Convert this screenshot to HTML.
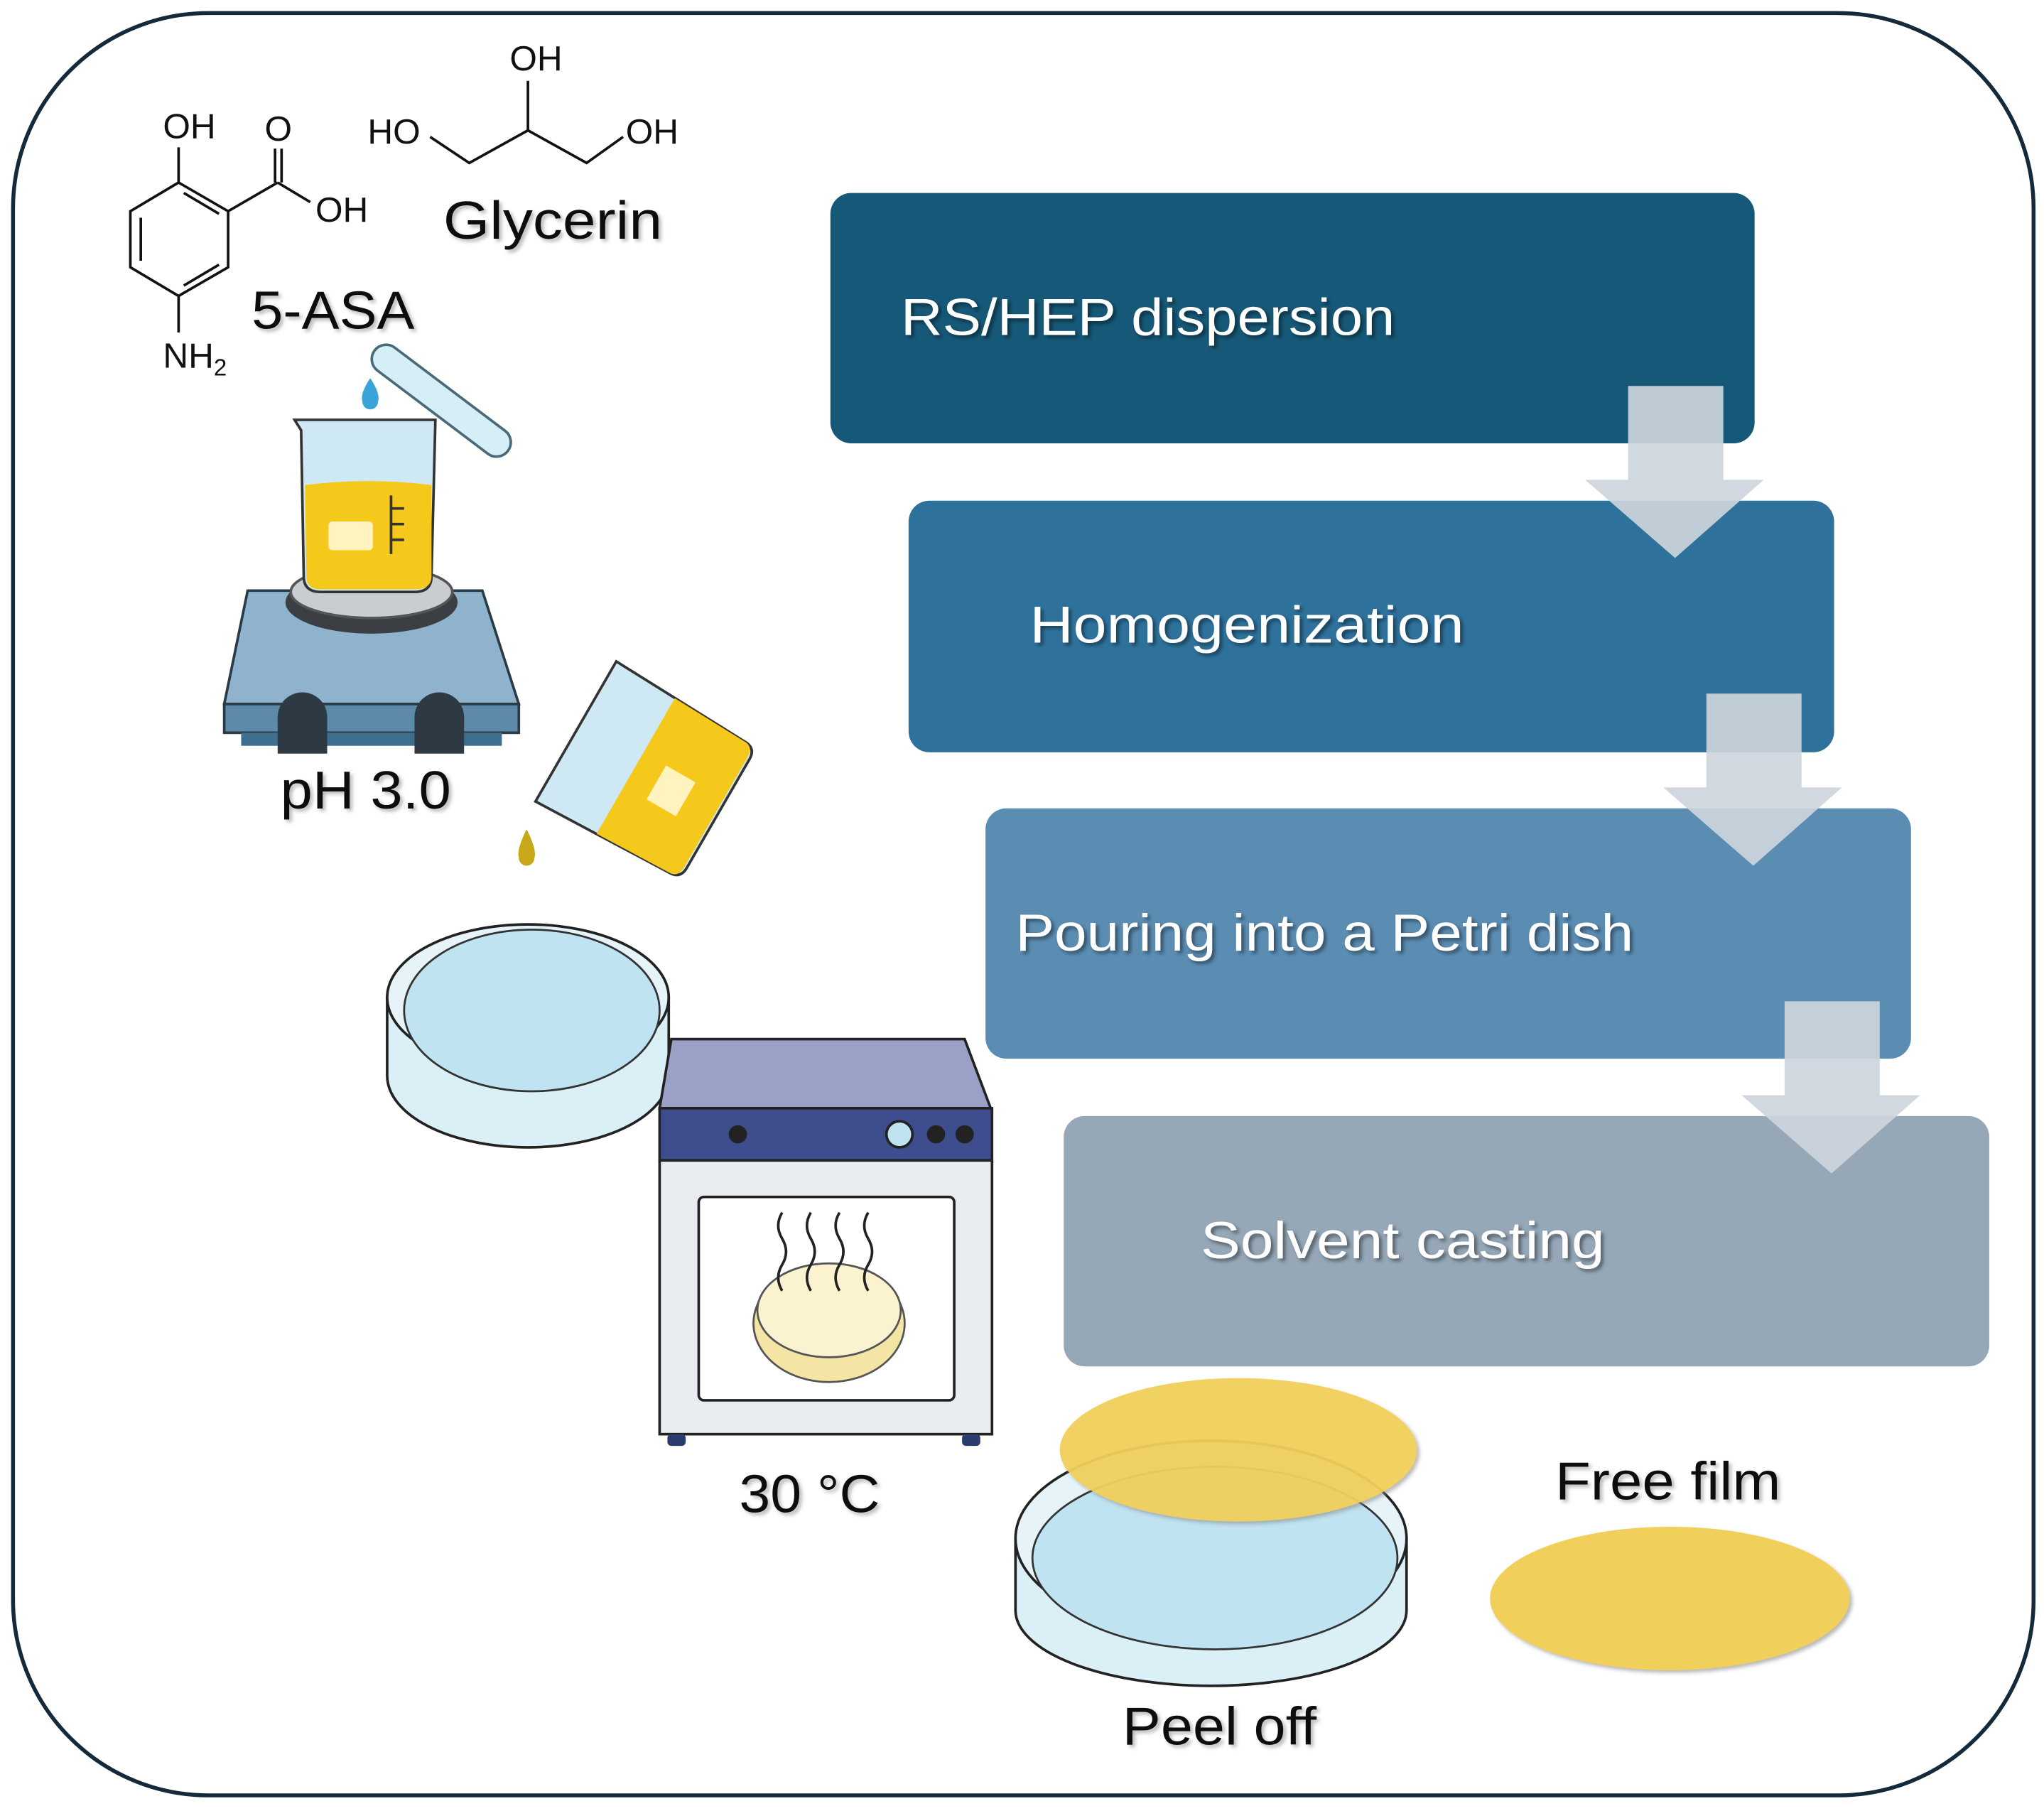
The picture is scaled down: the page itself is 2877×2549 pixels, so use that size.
<!DOCTYPE html>
<html><head><meta charset="utf-8"><style>
html,body{margin:0;padding:0;background:#fff}
svg{display:block}
.lbl{font-family:"Liberation Sans",sans-serif;fill:#111;font-size:41px}
.fl{font-family:"Liberation Sans",sans-serif;fill:#fff;font-size:40px}
.ch{font-family:"Liberation Sans",sans-serif;fill:#111;font-size:27px}
</style></head><body>
<svg width="2877" height="2549" viewBox="0 0 1568 1389" preserveAspectRatio="none" xmlns="http://www.w3.org/2000/svg">
<defs>
<filter id="sh" x="-10%" y="-10%" width="120%" height="140%"><feDropShadow dx="2" dy="2" stdDeviation="1.5" flood-color="#000" flood-opacity="0.45"/></filter>
<filter id="sh2" x="-10%" y="-10%" width="120%" height="140%"><feDropShadow dx="2" dy="2" stdDeviation="1.5" flood-color="#888" flood-opacity="0.6"/></filter>
</defs>
<rect x="10" y="10" width="1550" height="1367" rx="150" fill="#fff" stroke="#14293a" stroke-width="3"/>

<rect x="637" y="148" width="709" height="192" rx="16" fill="#165877"/>
<rect x="697" y="384" width="710" height="193" rx="16" fill="#2e729c"/>
<rect x="756" y="620" width="710" height="192" rx="16" fill="#5b8db3"/>
<rect x="816" y="856" width="710" height="192" rx="16" fill="#96a8b8"/>
<g fill="#cdd5dc" opacity="0.92">
<polygon points="1249,296 1322,296 1322,368 1353,368 1285,428 1216,368 1249,368"/>
<polygon points="1309,532 1382,532 1382,604 1413,604 1345,664 1276,604 1309,604"/>
<polygon points="1369,768 1442,768 1442,840 1473,840 1405,900 1336,840 1369,840"/>
</g>
<text class="fl" x="691" y="257" textLength="379" lengthAdjust="spacingAndGlyphs" filter="url(#sh)">RS/HEP dispersion</text>
<text class="fl" x="790" y="493" textLength="333" lengthAdjust="spacingAndGlyphs" filter="url(#sh)">Homogenization</text>
<text class="fl" x="779" y="729" textLength="474" lengthAdjust="spacingAndGlyphs" filter="url(#sh)">Pouring into a Petri dish</text>
<text class="fl" x="921" y="965" textLength="310" lengthAdjust="spacingAndGlyphs" filter="url(#sh)">Solvent casting</text>

<g stroke="#111" stroke-width="2" fill="none">
<polygon points="137,140 175,162 175,205 137,227 100,205 100,162"/>
<line x1="108" y1="167" x2="108" y2="200"/><line x1="141" y1="148" x2="168" y2="164"/><line x1="141" y1="219" x2="168" y2="203"/>
<line x1="137" y1="140" x2="137" y2="113"/>
<line x1="175" y1="162" x2="213" y2="140"/>
<line x1="211" y1="140" x2="211" y2="114"/><line x1="216" y1="140" x2="216" y2="114"/>
<line x1="213" y1="140" x2="238" y2="155"/>
<line x1="137" y1="227" x2="137" y2="255"/>
<polyline points="330,105 360,125 405,100 450,125 478,105"/>
<line x1="405" y1="100" x2="405" y2="62"/>
</g>
<text class="ch" x="125" y="106">OH</text>
<text class="ch" x="203" y="108">O</text>
<text class="ch" x="242" y="170">OH</text>
<text class="ch" x="125" y="282">NH<tspan font-size="18" dy="6">2</tspan></text>
<text class="ch" x="282" y="110">HO</text>
<text class="ch" x="391" y="54">OH</text>
<text class="ch" x="480" y="110">OH</text>
<text class="lbl" x="193" y="252" textLength="125" lengthAdjust="spacingAndGlyphs" filter="url(#sh2)">5-ASA</text>
<text class="lbl" x="340" y="183" textLength="168" lengthAdjust="spacingAndGlyphs" filter="url(#sh2)">Glycerin</text>

<g transform="translate(288,268) rotate(37)"><rect x="0" y="-10" width="128" height="22" rx="11" fill="#d6eef7" stroke="#4a6a7a" stroke-width="2"/></g>
<path d="M284,290 Q292,302 290,308 A6,6 0 0 1 278,308 Q276,302 284,290Z" fill="#3aa3d8"/>
<polygon points="190,453 370,453 398,540 172,540" fill="#8fb3cc" stroke="#2a3b48" stroke-width="2"/>
<rect x="172" y="540" width="226" height="22" fill="#5d8aa8" stroke="#2a3b48" stroke-width="2"/>
<rect x="185" y="562" width="200" height="10" fill="#3f6f8f"/>
<ellipse cx="285" cy="462" rx="66" ry="24" fill="#3b3f44"/>
<ellipse cx="285" cy="454" rx="62" ry="20" fill="#c9cdd1" stroke="#555" stroke-width="2"/>
<circle cx="232" cy="550" r="19" fill="#2d3a44"/><circle cx="337" cy="550" r="19" fill="#2d3a44"/>
<rect x="213" y="550" width="38" height="28" fill="#2d3a44"/><rect x="318" y="550" width="38" height="28" fill="#2d3a44"/>
<path d="M226,322 L334,322 L331,442 Q331,454 318,454 L246,454 Q233,454 233,442 L231,330Z" fill="#cfe9f4" stroke="#333" stroke-width="2"/>
<path d="M234,372 Q283,366 331,372 L331,442 Q331,452 318,452 L246,452 Q235,452 235,442Z" fill="#f5c81c"/>
<rect x="252" y="400" width="34" height="22" rx="3" fill="#fff3c0"/>
<g stroke="#333" stroke-width="2"><line x1="300" y1="380" x2="300" y2="425"/><line x1="300" y1="390" x2="310" y2="390"/><line x1="300" y1="402" x2="310" y2="402"/><line x1="300" y1="414" x2="310" y2="414"/></g>
<text class="lbl" x="215" y="620" textLength="131" lengthAdjust="spacingAndGlyphs" filter="url(#sh2)">pH 3.0</text>
<g transform="translate(492,590) rotate(-60)">
<path d="M-62,-58 L62,-58 L58,58 Q58,68 48,68 L-48,68 Q-58,68 -58,58Z" fill="#cfe9f4" stroke="#333" stroke-width="2"/>
<path d="M-60,-5 L60,-5 L58,58 Q58,66 48,66 L-48,66 Q-58,66 -58,58Z" fill="#f5c81c"/>
<rect x="-18" y="15" width="30" height="26" fill="#fff3c0"/>
</g>
<path d="M404,636 Q412,652 410,658 A6,6 0 0 1 398,658 Q396,652 404,636Z" fill="#c8a818"/>
<path d="M297,765 L297,825 A108,55 0 0 0 513,825 L513,765Z" fill="#dbeff7" stroke="#222" stroke-width="2"/>
<ellipse cx="405" cy="765" rx="108" ry="56" fill="#e6f4fa" stroke="#222" stroke-width="2"/>
<ellipse cx="408" cy="775" rx="98" ry="62" fill="#bfe3f0" stroke="#333" stroke-width="1.5"/>
<polygon points="515,797 740,797 760,850 506,850" fill="#9aa0c6" stroke="#222" stroke-width="2"/>
<rect x="506" y="850" width="255" height="40" fill="#3d4d8e" stroke="#222" stroke-width="2"/>
<circle cx="566" cy="870" r="7" fill="#222"/><circle cx="690" cy="870" r="10" fill="#bfe3f0" stroke="#222" stroke-width="2"/>
<circle cx="718" cy="870" r="7" fill="#222"/><circle cx="740" cy="870" r="7" fill="#222"/>
<rect x="506" y="890" width="255" height="210" fill="#e9edf1" stroke="#222" stroke-width="2"/>
<rect x="536" y="918" width="196" height="156" rx="4" fill="#fff" stroke="#222" stroke-width="2"/>
<ellipse cx="636" cy="1015" rx="58" ry="45" fill="#f4e5a4" stroke="#555" stroke-width="1.5"/>
<ellipse cx="636" cy="1005" rx="55" ry="36" fill="#fbf3cf" stroke="#555" stroke-width="1.5"/>
<g stroke="#222" stroke-width="2" fill="none">
<path d="M600,930 q-6,10 0,20 q6,10 0,20 q-6,10 0,20"/><path d="M622,930 q-6,10 0,20 q6,10 0,20 q-6,10 0,20"/>
<path d="M644,930 q-6,10 0,20 q6,10 0,20 q-6,10 0,20"/><path d="M666,930 q-6,10 0,20 q6,10 0,20 q-6,10 0,20"/>
</g>
<rect x="512" y="1100" width="14" height="9" rx="3" fill="#2a3b6e"/><rect x="738" y="1100" width="14" height="9" rx="3" fill="#2a3b6e"/>
<text class="lbl" x="567" y="1160" textLength="108" lengthAdjust="spacingAndGlyphs" filter="url(#sh2)">30 °C</text>
<path d="M779,1180 L779,1235 A150,58 0 0 0 1079,1235 L1079,1180Z" fill="#dbeff7" stroke="#222" stroke-width="2"/>
<ellipse cx="929" cy="1180" rx="150" ry="75" fill="#e6f4fa" stroke="#222" stroke-width="2"/>
<ellipse cx="932" cy="1195" rx="140" ry="70" fill="#bfe3f0" stroke="#333" stroke-width="1.5"/>
<ellipse cx="950" cy="1112" rx="137" ry="55" fill="#f0cf5a" opacity="0.95" filter="url(#sh2)"/>
<ellipse cx="1281" cy="1226" rx="138" ry="55" fill="#f0cf5a" filter="url(#sh2)"/>
<text class="lbl" x="861" y="1338" textLength="149" lengthAdjust="spacingAndGlyphs" filter="url(#sh2)">Peel off</text>
<text class="lbl" x="1193" y="1150" textLength="173" lengthAdjust="spacingAndGlyphs" filter="url(#sh2)">Free film</text>
</svg>
</body></html>
